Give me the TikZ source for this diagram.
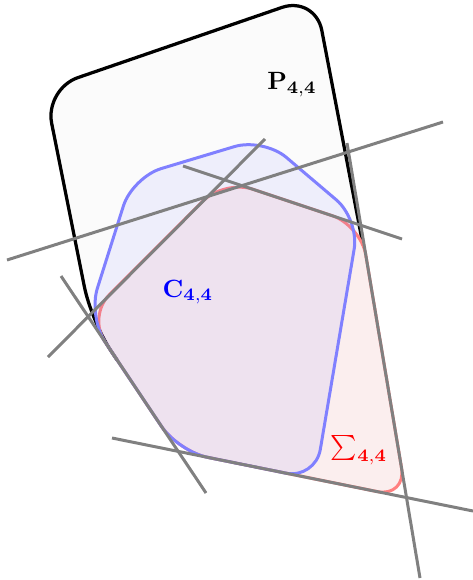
\documentclass[tikz,border=0pt]{standalone}
\usepackage{amsmath,amssymb}
\usepackage{tikz}
\usetikzlibrary{positioning}

\begin{document}
\begin{tikzpicture}[
  x=0.4pt, y=-0.4pt,
  pfill/.style={fill=black!1.5,rounded corners=12pt},
  pline/.style={draw=black,line width=1.3pt,rounded corners=14pt},
  sset/.style={draw=red!50,fill=red!50,fill opacity=0.1,line width=1.2pt,rounded corners=12pt},
  cset/.style={draw=blue!50,fill=blue!50,fill opacity=0.1,line width=1.2pt,rounded corners=12pt},
  tline/.style={draw=gray,line width=1.2pt},
  lbl/.style={inner sep=0pt},
]
\useasboundingbox (0,0) rectangle (473,580);
% P
\fill[pfill] (133,383.8) -- (91.3,321.3) -- (44.8,89) -- (315.2,-4) -- (363,245) -- (406.5,497.5) -- (178.2,451.4) -- cycle;
\draw[pline] (117.1,360) -- (91.3,321.3) -- (44.8,89) -- (315.2,-4) -- (363,245);
% Sigma and C
\draw[sset] (133,383.8) -- (87.9,316.2) -- (224.3,179.7) -- (360.8,225.2) -- (406.5,497.5) -- (178.2,451.4) -- cycle;
\draw[cset] (133,383.8) -- (88.3,316.9) -- (132.5,177.2) -- (263.4,137.9) -- (359.2,219.3) -- (315.3,479.1) -- (178.2,451.4) -- cycle;
% tangent lines
\draw[tline] (7,260) -- (443,122);
\draw[tline] (183,166) -- (402,239);
\draw[tline] (265,139) -- (48,357);
\draw[tline] (61,276) -- (206,493);
\draw[tline] (112,438) -- (473,511);
\draw[tline] (347,143) -- (420,578);
% labels
\node[lbl] (plabel) at (292,85) {$\mathbf{P_{4,4}}$};
\node[lbl,text=blue] (clabel) at (188,292) {$\mathbf{C_{4,4}}$};
\node[lbl,text=red] (slabel) at (359,450) {$\sum_{\mathbf{4,4}}$};
\end{tikzpicture}
\end{document}
